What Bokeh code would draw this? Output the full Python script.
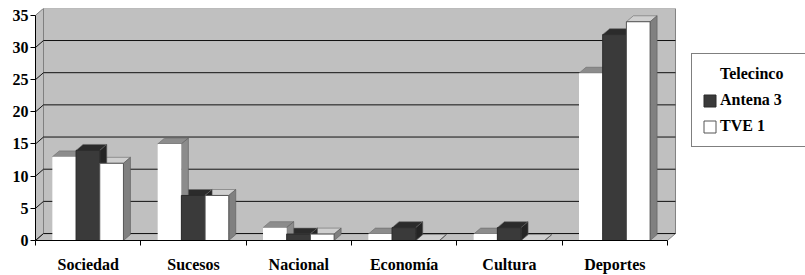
from bokeh.plotting import figure
from bokeh.models import Range1d, FixedTicker, Legend, LegendItem
from bokeh.embed import file_html
from bokeh.resources import INLINE

# ---- data ----
categories = ["Sociedad", "Sucesos", "Nacional", "Economía", "Cultura", "Deportes"]
series = ["Telecinco", "Antena 3", "TVE 1"]
telecinco = [13, 15, 2, 1, 1, 26]
antena3 = [14, 7, 1, 2, 2, 32]
tve1 = [12, 7, 1, 0, 0, 34]
y_ticks = [0, 5, 10, 15, 20, 25, 30, 35]

# ---- styling ----
FONT = "Liberation Serif"
front_colors = ["#ffffff", "#3a3a3a", "#ffffff"]
front_lines = [None, "#2a2a2a", "#555555"]
top_colors = ["#8c8c8c", "#2b2b2b", "#cfcfcf"]
side_colors = ["#8c8c8c", "#242424", "#808080"]
WALL = "#c0c0c0"
EDGE = "#808080"

n = len(categories)
X_PX, Y_PX = 105.33, 6.49
WALL_DX, WALL_DY = 8 / X_PX, 7 / Y_PX
BAR_DX, BAR_DY = 7 / X_PX, 6 / Y_PX
BAR_START, BAR_W = 0.16, 0.225
YMAX = y_ticks[-1]

p = figure(width=805, height=275, output_backend="svg", toolbar_location=None,
           x_range=Range1d(0, 770 / X_PX), y_range=Range1d(0, 234 / Y_PX),
           min_border_left=35, min_border_right=0, min_border_top=8, min_border_bottom=33)
p.xgrid.visible = False
p.ygrid.visible = False
p.outline_line_color = None
p.background_fill_color = "white"
p.border_fill_color = "white"

# walls and floor
p.quad(left=WALL_DX, right=n + WALL_DX, bottom=WALL_DY, top=YMAX + WALL_DY,
       fill_color=WALL, line_color=EDGE, line_width=1)
p.patch([0, WALL_DX, WALL_DX, 0], [0, WALL_DY, YMAX + WALL_DY, YMAX],
        fill_color=WALL, line_color=EDGE, line_width=1)
p.patch([0, n, n + WALL_DX, WALL_DX], [0, 0, WALL_DY, WALL_DY],
        fill_color=WALL, line_color=EDGE, line_width=1)

# gridlines on back and side wall
gx0, gx1, gy0, gy1 = [], [], [], []
for v in y_ticks[:-1]:
    gx0 += [WALL_DX, 0]
    gx1 += [n + WALL_DX, WALL_DX]
    gy0 += [v + WALL_DY, v]
    gy1 += [v + WALL_DY, v + WALL_DY]
p.segment(x0=gx0, y0=gy0, x1=gx1, y1=gy1, line_color="#111111", line_width=1)

# bars
data = [telecinco, antena3, tve1]
top_xs, top_ys, top_c = [], [], []
side_xs, side_ys, side_c = [], [], []
fronts = []
for i, vals in enumerate(data):
    lefts, rights, tops = [], [], []
    for c, h in enumerate(vals):
        x1 = c + BAR_START + i * BAR_W
        x2 = x1 + BAR_W
        top_xs.append([x1, x2, x2 + BAR_DX, x1 + BAR_DX])
        top_ys.append([h, h, h + BAR_DY, h + BAR_DY])
        top_c.append(top_colors[i])
        side_xs.append([x2, x2 + BAR_DX, x2 + BAR_DX, x2])
        side_ys.append([0, BAR_DY, h + BAR_DY, h])
        side_c.append(side_colors[i])
        lefts.append(x1); rights.append(x2); tops.append(h)
    fronts.append((lefts, rights, tops))

p.patches(top_xs, top_ys, fill_color=top_c, line_color="#6a6a6a", line_width=0.6)
p.patches(side_xs, side_ys, fill_color=side_c, line_color="#5a5a5a", line_width=0.6)

renderers = []
for i, (l, r, t) in enumerate(fronts):
    rr = p.quad(left=l, right=r, bottom=[0] * n, top=t,
                fill_color=front_colors[i], line_color=front_lines[i], line_width=1)
    renderers.append(rr)

# axes
p.yaxis.ticker = FixedTicker(ticks=y_ticks)
p.yaxis.bounds = (0, YMAX)
p.yaxis.major_tick_out = 5
p.yaxis.major_tick_in = 0
p.yaxis.minor_tick_out = 0
p.yaxis.minor_tick_in = 0
p.yaxis.major_label_standoff = 2
p.yaxis.axis_line_color = "black"
p.yaxis.major_tick_line_color = "black"

centers = [c + 0.5 for c in range(n)]
p.xaxis.ticker = FixedTicker(ticks=centers, minor_ticks=list(range(n + 1)))
p.xaxis.major_label_overrides = {c + 0.5: name for c, name in enumerate(categories)}
p.xaxis.bounds = (0, n)
p.xaxis.major_tick_out = 0
p.xaxis.major_tick_in = 0
p.xaxis.minor_tick_out = 5
p.xaxis.minor_tick_in = 0
p.xaxis.major_label_standoff = 10
p.xaxis.axis_line_color = "black"
p.xaxis.minor_tick_line_color = "black"

for ax in (p.xaxis[0], p.yaxis[0]):
    ax.major_label_text_font = FONT
    ax.major_label_text_font_style = "bold"
    ax.major_label_text_font_size = "16px"
    ax.major_label_text_color = "black"

legend = Legend(items=[LegendItem(label=s, renderers=[renderers[i]]) for i, s in enumerate(series)],
                location=(656, 93))
legend.label_text_font = FONT
legend.label_text_font_style = "bold"
legend.label_text_font_size = "16px"
legend.label_text_color = "black"
legend.glyph_width = 15
legend.glyph_height = 15
legend.label_height = 20
legend.label_width = 80
legend.label_standoff = 3
legend.spacing = 6
legend.padding = 10
legend.margin = 0
legend.border_line_color = "black"
legend.border_line_width = 1
legend.background_fill_color = "white"
legend.background_fill_alpha = 1
p.add_layout(legend)

open("out.html", "w").write(file_html(p, INLINE))
